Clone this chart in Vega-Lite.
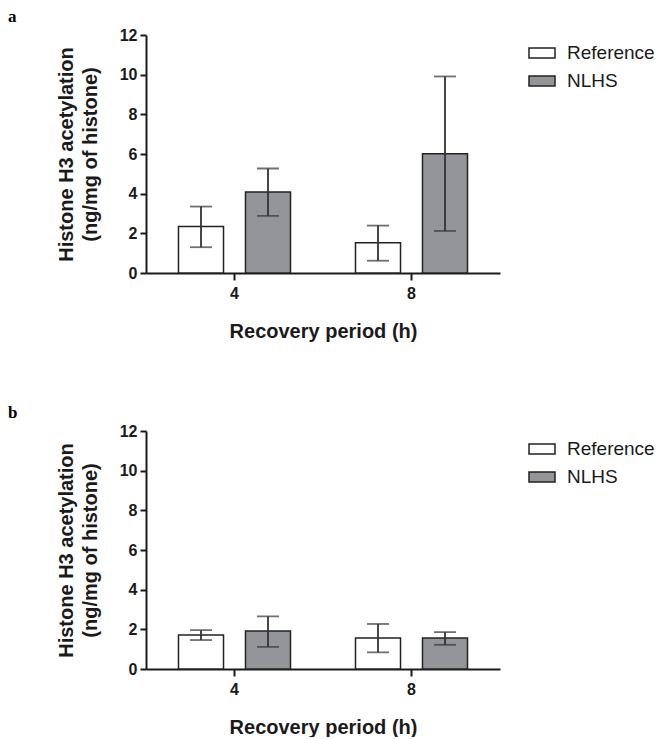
{
  "$schema": "https://vega.github.io/schema/vega-lite/v6.json",
  "background": "white",
  "padding": {"left": 8, "top": 8, "right": 0, "bottom": 0},
  "config": {
    "view": {"stroke": null},
    "font": "Liberation Sans",
    "axis": {
      "domainColor": "#1a1a1a", "domainWidth": 2, "tickColor": "#1a1a1a", "tickWidth": 2,
      "labelFont": "Liberation Sans", "labelFontWeight": "bold", "labelFontSize": 16, "labelColor": "#1a1a1a",
      "titleFont": "Liberation Sans", "titleFontWeight": "bold", "titleFontSize": 20, "titleColor": "#1a1a1a",
      "grid": false
    },
    "legend": {
      "labelFont": "Liberation Sans", "labelFontSize": 19, "labelColor": "#1a1a1a"
    },
    "title": {"font": "Liberation Serif", "fontWeight": "bold", "fontSize": 17, "color": "#000"}
  },
  "datasets": {
    "a": [
      {"time": "4", "group": "Reference", "mean": 2.34, "lo": 1.30, "hi": 3.35},
      {"time": "4", "group": "NLHS", "mean": 4.08, "lo": 2.88, "hi": 5.27},
      {"time": "8", "group": "Reference", "mean": 1.52, "lo": 0.62, "hi": 2.39},
      {"time": "8", "group": "NLHS", "mean": 6.01, "lo": 2.12, "hi": 9.91}
    ],
    "b": [
      {"time": "4", "group": "Reference", "mean": 1.71, "lo": 1.46, "hi": 1.96},
      {"time": "4", "group": "NLHS", "mean": 1.91, "lo": 1.12, "hi": 2.65},
      {"time": "8", "group": "Reference", "mean": 1.56, "lo": 0.84, "hi": 2.27},
      {"time": "8", "group": "NLHS", "mean": 1.56, "lo": 1.22, "hi": 1.86}
    ]
  },
  "resolve": {"scale": {"fill": "independent"}, "legend": {"fill": "independent"}},
  "spacing": 63,
  "vconcat": [
    {
      "title": {"text": "a", "anchor": "start", "frame": "group", "dx": -138, "offset": 1},
      "width": 354, "height": 238,
      "data": {"name": "a"},
      "encoding": {
        "x": {"field": "time", "type": "nominal", "scale": {"paddingInner": 0, "paddingOuter": 0},
              "axis": {"title": "Recovery period (h)", "labelAngle": 0, "tickSize": 7, "labelPadding": 5, "titlePadding": 20, "labelFontSize": 16}},
        "xOffset": {"field": "group", "type": "nominal", "sort": ["Reference", "NLHS"],
                    "scale": {"paddingInner": 0.328, "paddingOuter": 0.485}}
      },
      "layer": [
        {
          "mark": {"type": "bar", "stroke": "#222", "strokeWidth": 1.5},
          "encoding": {
            "y": {"field": "mean", "type": "quantitative", "scale": {"domain": [0, 12]},
                  "axis": {"title": ["Histone H3 acetylation", "(ng/mg of histone)"], "titleLineHeight": 24, "values": [0, 2, 4, 6, 8, 10, 12], "labelFontSize": 16, "labelOverlap": false, "tickSize": 6, "labelPadding": 3, "titlePadding": 19}},
            "fill": {"field": "group", "type": "nominal", "sort": ["Reference", "NLHS"],
                     "scale": {"domain": ["Reference", "NLHS"], "range": ["#ffffff", "#939598"]},
                     "legend": {"title": null, "offset": 24, "padding": 4, "labelOffset": 11, "rowPadding": 4,
                                "symbolType": "M-1,-0.385H1V0.385H-1Z", "symbolSize": 676, "symbolStrokeColor": "#222", "symbolStrokeWidth": 1.5, "symbolOpacity": 1}}
          }
        },
        {
          "mark": {"type": "rule", "color": "#333", "strokeWidth": 1.8},
          "encoding": {"y": {"field": "lo", "type": "quantitative", "axis": {"title": ["Histone H3 acetylation", "(ng/mg of histone)"], "titleLineHeight": 24, "values": [0, 2, 4, 6, 8, 10, 12], "labelFontSize": 16, "labelOverlap": false, "tickSize": 6, "labelPadding": 3, "titlePadding": 19}}, "y2": {"field": "hi"}}
        },
        {
          "mark": {"type": "tick", "color": "#333", "thickness": 1.8, "size": 22, "orient": "horizontal"},
          "encoding": {"y": {"field": "hi", "type": "quantitative", "axis": {"title": ["Histone H3 acetylation", "(ng/mg of histone)"], "titleLineHeight": 24, "values": [0, 2, 4, 6, 8, 10, 12], "labelFontSize": 16, "labelOverlap": false, "tickSize": 6, "labelPadding": 3, "titlePadding": 19}}}
        },
        {
          "mark": {"type": "tick", "color": "#333", "thickness": 1.8, "size": 22, "orient": "horizontal"},
          "encoding": {"y": {"field": "lo", "type": "quantitative", "axis": {"title": ["Histone H3 acetylation", "(ng/mg of histone)"], "titleLineHeight": 24, "values": [0, 2, 4, 6, 8, 10, 12], "labelFontSize": 16, "labelOverlap": false, "tickSize": 6, "labelPadding": 3, "titlePadding": 19}}}
        }
      ]
    },
    {
      "title": {"text": "b", "anchor": "start", "frame": "group", "dx": -138, "offset": 1},
      "width": 354, "height": 238,
      "data": {"name": "b"},
      "encoding": {
        "x": {"field": "time", "type": "nominal", "scale": {"paddingInner": 0, "paddingOuter": 0},
              "axis": {"title": "Recovery period (h)", "labelAngle": 0, "tickSize": 7, "labelPadding": 5, "titlePadding": 20, "labelFontSize": 16}},
        "xOffset": {"field": "group", "type": "nominal", "sort": ["Reference", "NLHS"],
                    "scale": {"paddingInner": 0.328, "paddingOuter": 0.485}}
      },
      "layer": [
        {
          "mark": {"type": "bar", "stroke": "#222", "strokeWidth": 1.5},
          "encoding": {
            "y": {"field": "mean", "type": "quantitative", "scale": {"domain": [0, 12]},
                  "axis": {"title": ["Histone H3 acetylation", "(ng/mg of histone)"], "titleLineHeight": 24, "values": [0, 2, 4, 6, 8, 10, 12], "labelFontSize": 16, "labelOverlap": false, "tickSize": 6, "labelPadding": 3, "titlePadding": 19}},
            "fill": {"field": "group", "type": "nominal", "sort": ["Reference", "NLHS"],
                     "scale": {"domain": ["Reference", "NLHS"], "range": ["#ffffff", "#939598"]},
                     "legend": {"title": null, "offset": 24, "padding": 4, "labelOffset": 11, "rowPadding": 4,
                                "symbolType": "M-1,-0.385H1V0.385H-1Z", "symbolSize": 676, "symbolStrokeColor": "#222", "symbolStrokeWidth": 1.5, "symbolOpacity": 1}}
          }
        },
        {
          "mark": {"type": "rule", "color": "#333", "strokeWidth": 1.8},
          "encoding": {"y": {"field": "lo", "type": "quantitative", "axis": {"title": ["Histone H3 acetylation", "(ng/mg of histone)"], "titleLineHeight": 24, "values": [0, 2, 4, 6, 8, 10, 12], "labelFontSize": 16, "labelOverlap": false, "tickSize": 6, "labelPadding": 3, "titlePadding": 19}}, "y2": {"field": "hi"}}
        },
        {
          "mark": {"type": "tick", "color": "#333", "thickness": 1.8, "size": 22, "orient": "horizontal"},
          "encoding": {"y": {"field": "hi", "type": "quantitative", "axis": {"title": ["Histone H3 acetylation", "(ng/mg of histone)"], "titleLineHeight": 24, "values": [0, 2, 4, 6, 8, 10, 12], "labelFontSize": 16, "labelOverlap": false, "tickSize": 6, "labelPadding": 3, "titlePadding": 19}}}
        },
        {
          "mark": {"type": "tick", "color": "#333", "thickness": 1.8, "size": 22, "orient": "horizontal"},
          "encoding": {"y": {"field": "lo", "type": "quantitative", "axis": {"title": ["Histone H3 acetylation", "(ng/mg of histone)"], "titleLineHeight": 24, "values": [0, 2, 4, 6, 8, 10, 12], "labelFontSize": 16, "labelOverlap": false, "tickSize": 6, "labelPadding": 3, "titlePadding": 19}}}
        }
      ]
    }
  ]
}
